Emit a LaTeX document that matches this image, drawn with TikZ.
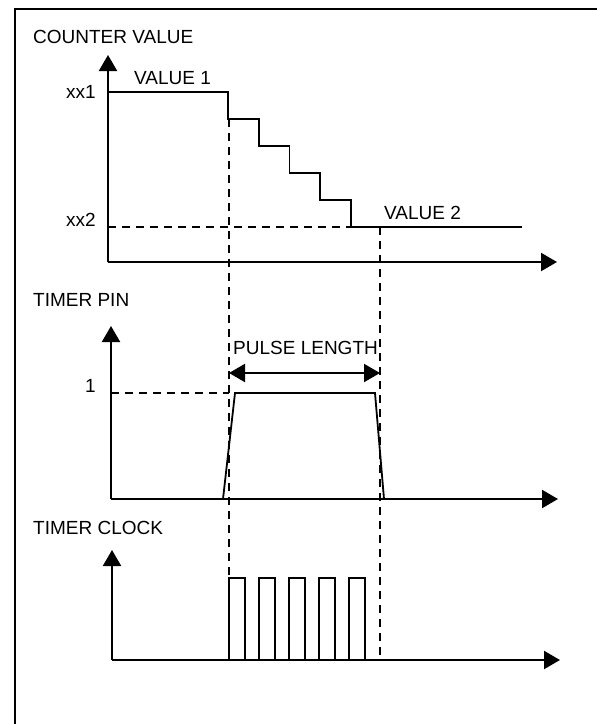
\documentclass[tikz,border=0pt]{standalone}
\usepackage{fontspec}
\setmainfont{Liberation Sans}
\usetikzlibrary{arrows.meta}
\begin{document}
\begin{tikzpicture}[x=1pt, y=-1pt,
    axis/.style={-{Triangle[length=16pt, width=18pt]}, line width=2.2pt},
    signal/.style={line width=1.8pt},
    guide/.style={line width=2pt, dash pattern=on 8pt off 6pt},
    txt/.style={font=\fontsize{19}{22}\selectfont, inner sep=0pt}
]
    \useasboundingbox (0,0) rectangle (597,724);
    \draw[line width=2.5pt] (15,9) rectangle (640,760);

    % counter value
    \node[txt, anchor=west] (cntlabel) at (33,37) {COUNTER VALUE};
    \coordinate (cnt-o) at (108,262);
    \coordinate (cnt-y) at (108,55);
    \coordinate (cnt-x) at (557,262);
    \node[txt, anchor=east] (xx1) at (96,92) {xx1};
    \node[txt, anchor=base east] (xx2) at (96,226) {xx2};
    \node[txt, anchor=west] (val1) at (134,78) {VALUE 1};
    \node[txt, anchor=west] (val2) at (384,213) {VALUE 2};
    \draw[guide] (108,227) -- (351,227);
    \draw[signal] (108,92) -- (228,92)
        \foreach \i in {1,...,5} { -- ++(0,27) -- ++(30.75,0) };
    \draw[signal] (381,227) -- (522,227);
    \draw[axis] (cnt-o) -- (cnt-y);
    \draw[axis] (cnt-o) -- (cnt-x);

    % timer pin
    \node[txt, anchor=west] (pinlabel) at (33,300) {TIMER PIN};
    \coordinate (pin-o) at (111,499);
    \coordinate (pin-y) at (111,326);
    \coordinate (pin-x) at (558,499);
    \node[txt, anchor=east] (one) at (96,386) {1};
    \node[txt, anchor=west] (pulselen) at (233,348) {PULSE LENGTH};
    \draw[guide] (111,393) -- (229,393);
    \draw[signal] (223,499) -- (235,393) -- (375,393) -- (384,499);
    \draw[axis] (pin-o) -- (pin-y);
    \draw[axis] (pin-o) -- (pin-x);
    \coordinate (pl-a) at (229,373);
    \coordinate (pl-b) at (380,373);
    \draw[{Triangle[length=16pt, width=18pt]}-{Triangle[length=16pt, width=18pt]}, line width=2pt] (pl-a) -- (pl-b);

    % timer clock
    \node[txt, anchor=west] (clklabel) at (33,528) {TIMER CLOCK};
    \coordinate (clk-o) at (112,660);
    \coordinate (clk-y) at (112,550);
    \coordinate (clk-x) at (560,660);
    \foreach \i in {0,...,4}
        \draw[signal] (229+30*\i,660) -- (229+30*\i,578) -- (245+30*\i,578) -- (245+30*\i,660);
    \draw[axis] (clk-o) -- (clk-y);
    \draw[axis] (clk-o) -- (clk-x);

    % guide lines
    \draw[guide] (229,119) -- (229,660);
    \draw[guide] (380,227) -- (380,660);
\end{tikzpicture}
\end{document}
